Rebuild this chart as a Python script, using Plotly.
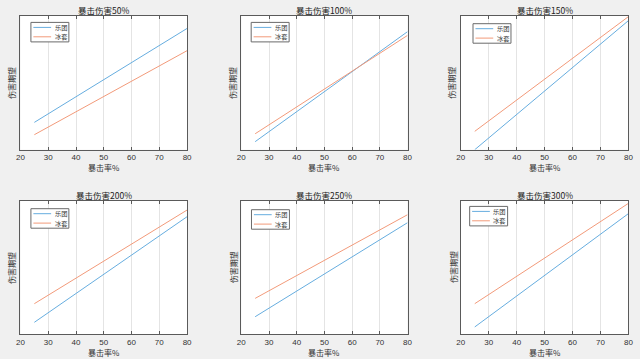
import plotly.graph_objects as go

W, H = 640, 359

# ---- data (expected damage, relative units; y axis has no tick labels) ----
crit_rate = [25, 80]
crit_damage_titles = ["暴击伤害50%", "暴击伤害100%", "暴击伤害150%",
                      "暴击伤害200%", "暴击伤害250%", "暴击伤害300%"]
series_names = ["乐团", "冰套"]
yuetuan = [
    [20.4, 90.5],
    [6.0, 88.1],
    [0.0, 96.3],
    [8.8, 88.2],
    [13.0, 83.7],
    [5.3, 90.5],
]
bingtao = [
    [11.2, 73.9],
    [11.9, 85.3],
    [13.7, 99.3],
    [22.8, 93.2],
    [26.8, 89.7],
    [22.8, 98.2],
]
x_ticks = [20, 30, 40, 50, 60, 70, 80]
x_label = "暴击率%"
y_label = "伤害期望"

# ---- layout (pixel boxes of each axes) ----
boxes = [
    (16.7, 185.7, 15.7, 149.7),
    (240.7, 409.3, 15.7, 149.7),
    (463.3, 633.3, 15.7, 149.7),
    (16.7, 185.7, 201.0, 334.0),
    (240.7, 409.3, 201.0, 334.0),
    (463.3, 633.3, 201.0, 334.0),
]
ylabel_x = [7.5, 231.5, 454.5, 7.5, 233.0, 456.0]
legend_off = [(10.6, 6.7), (10.0, 6.7), (12.4, 8.0), (10.6, 7.7), (10.3, 8.7), (9.0, 5.4)]
colors = ["#66addf", "#f29a7a"]
font_fam = "Noto Sans CJK SC, Liberation Sans, sans-serif"
txt_col = "#333333"


def px(x):
    return x / W


def py(y):
    return 1 - y / H


fig = go.Figure()
annotations = []
shapes = []

for i in range(6):
    l, r, t, b = boxes[i]
    sfx = "" if i == 0 else str(i + 1)
    xa, ya = "x" + sfx, "y" + sfx
    for name, vals, col in zip(series_names, [yuetuan[i], bingtao[i]], colors):
        fig.add_trace(go.Scatter(x=crit_rate, y=vals, mode="lines", name=name,
                                 line=dict(color=col, width=1),
                                 xaxis=xa, yaxis=ya, showlegend=False,
                                 hoverinfo="skip"))
    axis_common = dict(showline=True, linecolor="#5a5a5a", linewidth=1,
                       mirror="ticks", zeroline=False)
    fig.layout["xaxis" + sfx] = dict(
        domain=[px(l), px(r)], anchor=ya, range=[20, 80],
        tickvals=x_ticks, ticks="inside", ticklen=3, tickcolor="#5a5a5a",
        showgrid=True, gridcolor="#e4e4e4", gridwidth=1,
        tickfont=dict(size=8, color=txt_col, family="Liberation Sans, Arial"),
        **axis_common)
    fig.layout["yaxis" + sfx] = dict(
        domain=[py(b), py(t)], anchor=xa, range=[0, 100],
        showticklabels=False, ticks="", showgrid=False, **axis_common)

    cx = (l + r) / 2
    annotations.append(dict(text=crit_damage_titles[i], x=px(cx), y=py(t - 6),
                            xref="paper", yref="paper", showarrow=False,
                            xanchor="center", yanchor="middle",
                            font=dict(size=8.5, color="#222222", family=font_fam)))
    annotations.append(dict(text=x_label, x=px(cx), y=py(b + 18),
                            xref="paper", yref="paper", showarrow=False,
                            xanchor="center", yanchor="middle",
                            font=dict(size=8, color=txt_col, family=font_fam)))
    annotations.append(dict(text=y_label, x=px(ylabel_x[i]), y=py((t + b) / 2),
                            xref="paper", yref="paper", showarrow=False,
                            textangle=-90, xanchor="center", yanchor="middle",
                            font=dict(size=8, color=txt_col, family=font_fam)))

    # legend box
    ox, oy = legend_off[i]
    lx0, ly0 = l + ox, t + oy
    lx1, ly1 = lx0 + 38.5, ly0 + 19.5
    shapes.append(dict(type="rect", xref="paper", yref="paper",
                       x0=px(lx0), x1=px(lx1), y0=py(ly1), y1=py(ly0),
                       line=dict(color="#6a6a6a", width=1), fillcolor="white", layer="above"))
    for k, (name, col) in enumerate(zip(series_names, colors)):
        yy = ly0 + 5.0 + k * 9.4
        shapes.append(dict(type="line", xref="paper", yref="paper",
                           x0=px(lx0 + 2.5), x1=px(lx0 + 20.5), y0=py(yy), y1=py(yy),
                           line=dict(color=col, width=1), layer="above"))
        annotations.append(dict(text=name, x=px(lx0 + 23), y=py(yy),
                                xref="paper", yref="paper", showarrow=False,
                                xanchor="left", yanchor="middle",
                                borderpad=0,
                                font=dict(size=6.2, color=txt_col, family=font_fam)))

fig.update_layout(width=W, height=H, margin=dict(l=0, r=0, t=0, b=0),
                  paper_bgcolor="#f0f0f0", plot_bgcolor="white",
                  showlegend=False, annotations=annotations, shapes=shapes)

fig.write_html("out.html", config={"displayModeBar": False},
               post_script="document.body.style.margin='0';document.body.style.overflow='hidden';")
